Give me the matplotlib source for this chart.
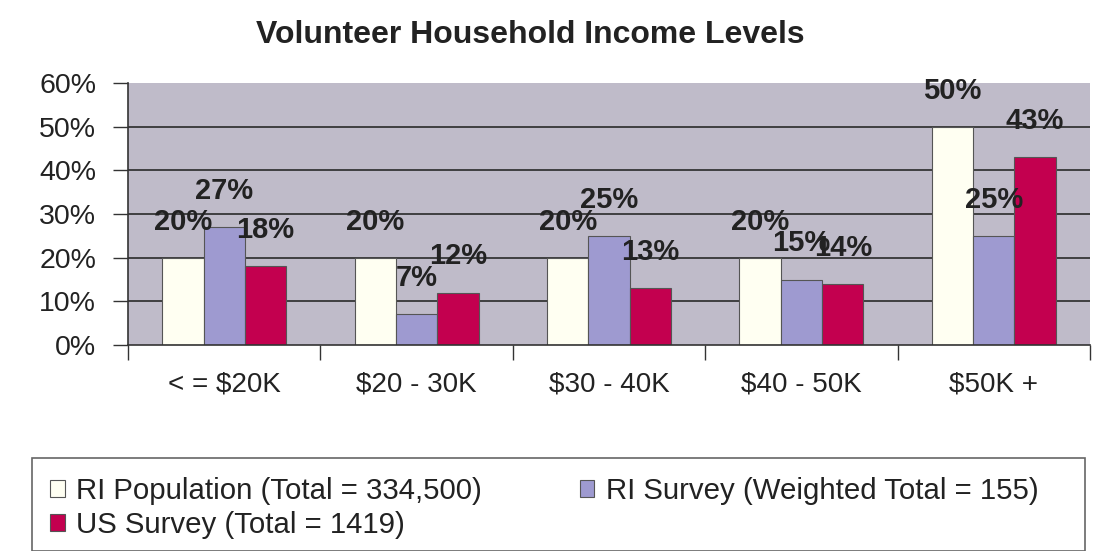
import matplotlib
matplotlib.use("Agg")
import matplotlib.pyplot as plt
from matplotlib.patches import Rectangle, Patch
from matplotlib.ticker import FixedLocator, FuncFormatter
import numpy as np

plt.rcParams['font.family'] = ['Liberation Sans', 'DejaVu Sans']

# --- data -------------------------------------------------------------
categories = ["< = $20K", "$20 - 30K", "$30 - 40K", "$40 - 50K", "$50K +"]
ri_population = [20, 20, 20, 20, 50]
ri_survey = [27, 7, 25, 15, 25]
us_survey = [18, 12, 13, 14, 43]
series_names = [
    "RI Population (Total = 334,500)",
    "RI Survey (Weighted Total = 155)",
    "US Survey (Total = 1419)",
]
y_ticks = [0, 10, 20, 30, 40, 50, 60]

# --- styling ----------------------------------------------------------
colors = ["#FFFFF2", "#9E9AD0", "#C3004F"]
plot_bg = "#BFBBC9"
ink = "#222222"

W, H = 1101, 551
fig = plt.figure(figsize=(W / 100, H / 100), dpi=100)
fig.patch.set_facecolor("white")

ax = fig.add_axes([128 / W, 1 - 345 / H, (1090 - 128) / W, (345 - 83) / H])
ax.set_facecolor(plot_bg)

centers = np.arange(len(categories)) + 0.5
bw = 0.215
series = [ri_population, ri_survey, us_survey]
offsets = [-bw, 0.0, bw]

for vals, off, col in zip(series, offsets, colors):
    ax.bar(centers + off, vals, width=bw, color=col,
           edgecolor="#555555", linewidth=0.8, zorder=3)
    for x, v in zip(centers + off, vals):
        ax.annotate(f"{v}%", xy=(x, v), xytext=(0, 26),
                    textcoords="offset points", ha="center", va="center",
                    fontsize=21, fontweight="bold", color=ink, zorder=5)

ax.set_xlim(0, len(categories))
ax.set_ylim(0, 60)

# horizontal gridlines behind the bars
ax.yaxis.set_major_locator(FixedLocator(y_ticks))
ax.yaxis.set_major_formatter(FuncFormatter(lambda v, p: f"{v:.0f}%"))
for t in y_ticks[1:-1]:
    ax.axhline(t, color="#2a2a2a", linewidth=1.2, zorder=1)

# x axis: boundary ticks, labels at category centres
ax.xaxis.set_major_locator(FixedLocator(np.arange(len(categories) + 1)))
ax.xaxis.set_major_formatter(FuncFormatter(lambda v, p: ""))
ax.xaxis.set_minor_locator(FixedLocator(centers))
ax.set_xticklabels(categories, minor=True)
ax.tick_params(axis="x", which="major", direction="out", length=11,
               width=1.0, color="#333333")
ax.tick_params(axis="x", which="minor", length=0, pad=19,
               labelsize=20, labelcolor=ink)
ax.tick_params(axis="y", direction="out", length=11, width=1.0,
               color="#333333", labelsize=20.5, labelcolor=ink, pad=12)

for side in ["top", "right"]:
    ax.spines[side].set_visible(False)
for side in ["left", "bottom"]:
    ax.spines[side].set_color("#333333")
    ax.spines[side].set_linewidth(1.2)
    ax.spines[side].set_zorder(4)

fig.text(530 / W, 1 - 35 / H, "Volunteer Household Income Levels",
         ha="center", va="center", fontsize=23, fontweight="bold", color=ink)

# legend frame
fig.patches.append(Rectangle((32 / W, 0.0), (1085 - 32) / W, (551 - 458) / H,
                             transform=fig.transFigure, facecolor="white",
                             edgecolor="#666666", linewidth=1.2, zorder=0))
handles = [Patch(facecolor=c, edgecolor="#555555", linewidth=0.8) for c in colors]
order = [0, 2, 1]
fig.legend([handles[i] for i in order], [series_names[i] for i in order],
           loc="upper left", bbox_to_anchor=(50 / W, 1 - 477 / H),
           ncol=2, frameon=False, fontsize=21.2, handlelength=0.5,
           handleheight=0.5, handletextpad=0.4, columnspacing=3.3,
           labelspacing=0.2, borderaxespad=0, borderpad=0, labelcolor=ink)

fig.savefig("out.png", dpi=100)
